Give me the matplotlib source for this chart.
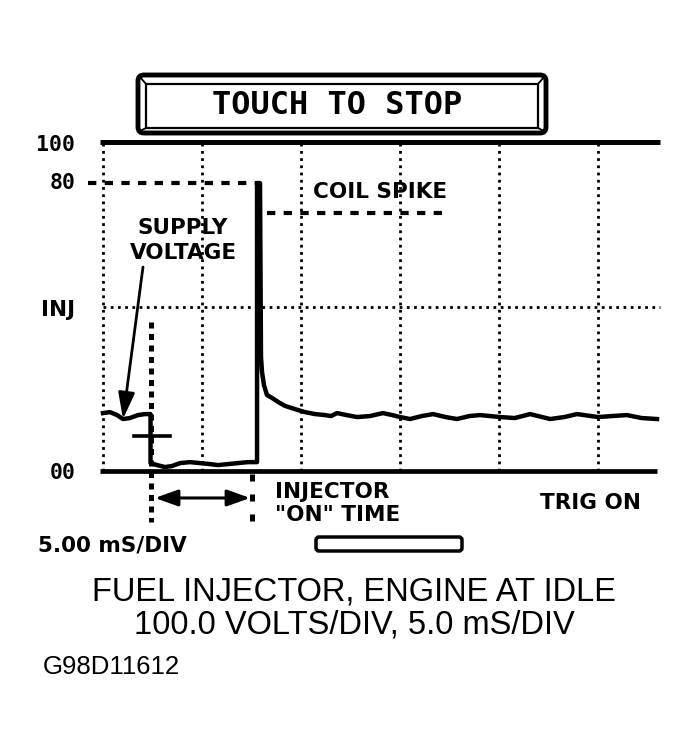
import matplotlib
matplotlib.use("Agg")
import matplotlib.pyplot as plt
from matplotlib.patches import FancyBboxPatch, Rectangle

W, H = 697, 752

# scope trace: time in ms (5 ms/div), level in screen units (00 = 0, INJ = 50, 100 = 100)
trace_ms = [0.0, 0.35, 0.71, 1.01, 1.36, 1.77, 2.12, 2.40,
            2.40, 2.73, 3.13, 3.48, 3.89, 4.39, 4.90, 5.40, 5.81, 6.31, 6.82, 7.32, 7.73,
            7.78, 7.78, 7.93, 7.98, 8.03, 8.13, 8.28, 8.54, 8.84, 9.19, 9.70, 10.20,
            10.71, 11.21, 11.52, 11.82, 12.30, 12.83, 13.48, 14.14, 14.60, 15.0, 15.51,
            16.10, 16.67, 17.30, 17.88, 18.50, 19.04, 20.05, 20.80, 21.57, 22.58,
            23.30, 23.94, 25.0, 25.70, 26.46, 27.20, 27.98]
trace_v = [17.6, 17.9, 17.0, 15.8, 16.1, 17.0, 17.3, 17.3,
           2.4, 1.8, 1.2, 1.5, 2.4, 2.7, 2.4, 2.1, 1.8, 2.1, 2.4, 2.7, 2.7,
           2.7, 87.5, 87.5, 34.7, 30.1, 26.1, 23.1, 22.2, 21.0, 19.8, 18.8, 17.9,
           17.3, 17.0, 16.7, 17.6, 17.0, 16.4, 16.7, 17.6, 17.0, 16.4, 15.8,
           16.7, 17.3, 16.4, 15.8, 16.7, 17.0, 16.4, 16.1, 17.3, 15.8,
           16.4, 17.3, 16.4, 16.7, 17.0, 16.1, 15.8]

grid_ms = [0, 5, 10, 15, 20, 25]
inj_level = 50
peak_level = 87.5      # "80" marker line
coil_level = 78.4      # coil spike marker
on_start, on_end = 2.42, 7.53
supply_ms, supply_v = 1.01, 15.8

y_labels = ["100", "80", "INJ", "00"]
y_label_pos = [99.1, 87.5, 48.9, -0.6]

plt.rcParams['font.family'] = ['DejaVu Sans']
fig = plt.figure(figsize=(W / 100, H / 100), dpi=100)
fig.patch.set_facecolor('white')

# pixel overlay for the screen decorations
ov = fig.add_axes([0, 0, 1, 1])
ov.set_xlim(0, W)
ov.set_ylim(H, 0)
ov.axis('off')

ax = fig.add_axes([100 / W, 1 - 471 / H, 562 / W, 329 / H])
ms_px = 5 / 99
ax.set_xlim(-3 * ms_px, (662 - 103) * ms_px)
ax.set_ylim(0, 100)
ax.axis('off')

# frame lines
ax.plot([-3 * ms_px, (660 - 103) * ms_px], [100, 100], color='black', lw=3.6, clip_on=False, solid_capstyle='butt')
ax.plot([-3 * ms_px, (657 - 103) * ms_px], [0, 0], color='black', lw=3.4, clip_on=False, solid_capstyle='butt')

# dotted graticule
for g in grid_ms:
    ax.plot([g, g], [0, 100], color='black', lw=2.0, ls=(0, (1, 1.6)), clip_on=False)
ax.plot([0, (660 - 103) * ms_px], [inj_level, inj_level], color='black', lw=2.0, ls=(0, (1, 1.6)), clip_on=False)

# dashed markers
ax.plot([-15 * ms_px, 7.93], [peak_level, peak_level], color='black', lw=3.0, ls=(0, (2, 2)), clip_on=False)
ax.plot([8.28, 17.42], [coil_level, coil_level], color='black', lw=3.0, ls=(0, (2, 2)), clip_on=False)

# injector on-time markers
ax.plot([on_start, on_start], [45.3, -15.5], color='black', lw=3.6, ls=(0, (1.2, 1.1)), clip_on=False)
ax.plot([on_end, on_end], [-1.0, -15.5], color='black', lw=3.6, ls=(0, (1.4, 2.6)), clip_on=False)
ax.plot([1.57, 3.38], [10.6, 10.6], color='black', lw=2.6, clip_on=False)
ax.annotate('', xy=(on_end - 0.1, -8.2), xytext=(on_start + 0.2, -8.2),
            arrowprops=dict(arrowstyle='<|-|>,head_length=0.7,head_width=0.25', lw=2.2,
                            color='black', mutation_scale=20, shrinkA=0, shrinkB=0),
            annotation_clip=False)

# trace
ax.plot(trace_ms, trace_v, color='black', lw=3.2, solid_joinstyle='round', clip_on=False)

# supply voltage arrow
ax.annotate('', xy=(supply_ms, supply_v), xytext=(2.02, 62.0),
            arrowprops=dict(arrowstyle='-|>,head_length=0.8,head_width=0.25', lw=2.0,
                            color='black', mutation_scale=20, shrinkA=0, shrinkB=0),
            annotation_clip=False)

bold = dict(fontsize=15.5, fontweight='bold', color='black', va='center')
ax.text(4.04, 73.9, 'SUPPLY', ha='center', **bold)
ax.text(4.04, 66.3, 'VOLTAGE', ha='center', **bold)
ax.text(10.61, 84.8, 'COIL SPIKE', ha='left', **bold)
ax.text(8.69, -6.4, 'INJECTOR', ha='left', clip_on=False, **bold)
ax.text(8.69, -13.4, '"ON" TIME', ha='left', clip_on=False, **bold)
ax.text(22.07, -9.7, 'TRIG ON', ha='left', clip_on=False, **bold)
ax.text(-3.28, -22.5, '5.00 mS/DIV', ha='left', clip_on=False, **bold)

for lab, yv in zip(y_labels, y_label_pos):
    fam = 'DejaVu Sans' if lab == 'INJ' else 'DejaVu Sans Mono'
    ax.text(-1.4, yv, lab, ha='right', family=fam, clip_on=False, **bold)

# TOUCH TO STOP button
ov.add_patch(FancyBboxPatch((138, 75), 408, 58, boxstyle="round,pad=0,rounding_size=6",
                            lw=3.5, ec='black', fc='white'))
ov.add_patch(Rectangle((146, 84), 392, 44, lw=1.6, ec='black', fill=False))
for (x0, y0), (x1, y1) in [((140, 77), (146, 84)), ((544, 77), (538, 84)),
                           ((140, 131), (146, 128)), ((544, 131), (538, 128))]:
    ov.plot([x0, x1], [y0, y1], color='black', lw=1.3)
ov.text(337, 105, 'TOUCH TO STOP', ha='center', va='center', family='DejaVu Sans Mono',
        fontsize=23, fontweight='bold')

# on-time bar
ov.add_patch(FancyBboxPatch((316, 537), 146, 14, boxstyle="round,pad=0,rounding_size=3",
                            lw=2.5, ec='black', fc='white'))

# caption
cap = dict(family='Liberation Sans', fontsize=23.5, ha='center', va='center')
ov.text(354, 592, 'FUEL INJECTOR, ENGINE AT IDLE', **cap)
ov.text(354, 625, '100.0 VOLTS/DIV, 5.0 mS/DIV', **cap)
ov.text(43, 667, 'G98D11612', family='Liberation Sans', fontsize=18.5, ha='left', va='center')

fig.savefig('out.png', dpi=100, facecolor='white')
